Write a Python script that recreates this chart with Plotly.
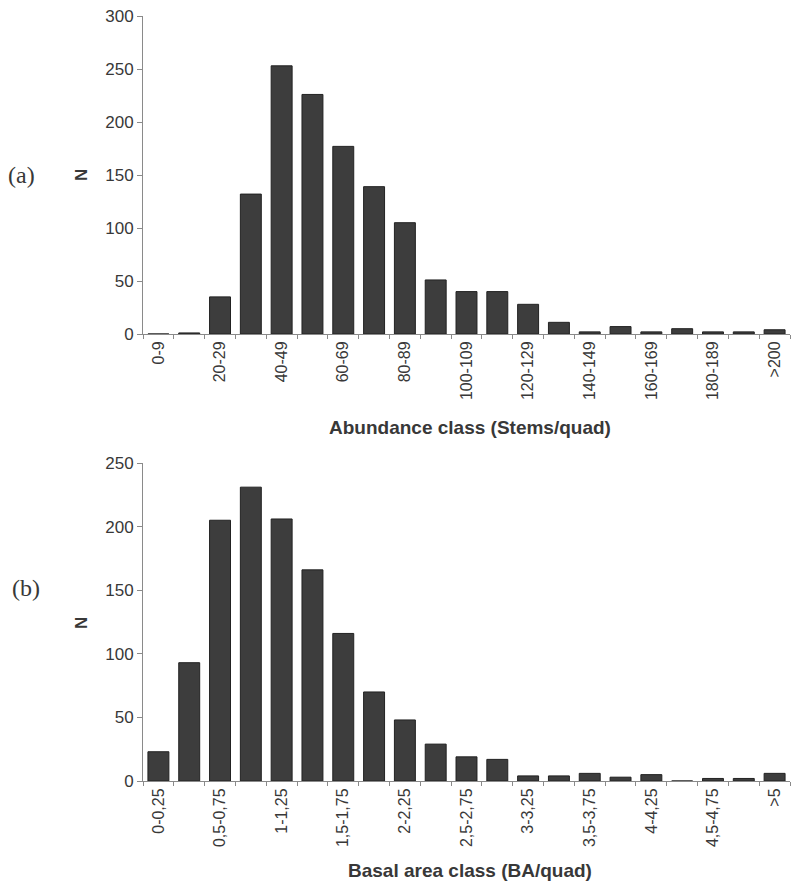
import plotly.graph_objects as go

# ---- data ----
abund_classes = ["0-9", "10-19", "20-29", "30-39", "40-49", "50-59", "60-69", "70-79",
                 "80-89", "90-99", "100-109", "110-119", "120-129", "130-139", "140-149",
                 "150-159", "160-169", "170-179", "180-189", "190-199", ">200"]
abund_n = [0, 1, 35, 132, 253, 226, 177, 139, 105, 51, 40, 40, 28, 11, 2, 7, 2, 5, 2, 2, 4]

ba_classes = ["0-0,25", "0,25-0,5", "0,5-0,75", "0,75-1", "1-1,25", "1,25-1,5", "1,5-1,75",
              "1,75-2", "2-2,25", "2,25-2,5", "2,5-2,75", "2,75-3", "3-3,25", "3,25-3,5",
              "3,5-3,75", "3,75-4", "4-4,25", "4,25-4,5", "4,5-4,75", "4,75-5", ">5"]
ba_n = [23, 93, 205, 231, 206, 166, 116, 70, 48, 29, 19, 17, 4, 4, 6, 3, 5, 0, 2, 2, 6]

W, H = 791, 886
L, R, T, B = 143, 1, 16, 105
PW = W - L - R
PH = H - T - B


def px(x):
    return (x - L) / PW


def py(y):
    return (H - B - y) / PH


TXT = "#383838"
AX = "#8a8a8a"
BAR = "#3d3d3d"
SANS = "Liberation Sans, Arial, sans-serif"

fig = go.Figure()

fig.add_trace(go.Bar(x=list(range(len(abund_classes))), y=abund_n, xaxis="x", yaxis="y",
                     marker=dict(color=BAR, line=dict(color="#222222", width=1)),
                     hovertext=abund_classes, showlegend=False))
fig.add_trace(go.Bar(x=list(range(len(ba_classes))), y=ba_n, xaxis="x2", yaxis="y2",
                     marker=dict(color=BAR, line=dict(color="#222222", width=1)),
                     hovertext=ba_classes, showlegend=False))


def xaxis_cfg(labels, anchor):
    n = len(labels)
    return dict(
        anchor=anchor, domain=[0, 1], range=[-0.5, n - 0.5],
        tickmode="array", tickvals=list(range(0, n, 2)), ticktext=labels[::2],
        tickangle=-90, ticks="", showline=True, linecolor=AX, linewidth=1,
        showgrid=False, zeroline=False,
        tickfont=dict(family=SANS, size=16, color=TXT),
        minor=dict(tickmode="array", tickvals=[k - 0.5 for k in range(n + 1)],
                   ticks="outside", ticklen=4, tickcolor=AX, tickwidth=1, showgrid=False),
        fixedrange=True,
    )


def yaxis_cfg(rng, domain, anchor):
    return dict(
        anchor=anchor, domain=domain, range=rng, dtick=50, tick0=0,
        ticks="outside", ticklen=5, tickcolor=AX, showline=True, linecolor=AX, linewidth=1,
        showgrid=False, zeroline=False,
        tickfont=dict(family=SANS, size=17, color=TXT),
        fixedrange=True,
    )


fig.update_layout(
    width=W, height=H,
    margin=dict(l=L, r=R, t=T, b=B, autoexpand=False),
    paper_bgcolor="white", plot_bgcolor="white",
    bargap=0.32,
    xaxis=xaxis_cfg(abund_classes, "y"),
    yaxis=yaxis_cfg([0, 300], [py(334), 1.0], "x"),
    xaxis2=xaxis_cfg(ba_classes, "y2"),
    yaxis2=yaxis_cfg([0, 250], [0.0, py(463)], "x2"),
)

ann = []
ann.append(dict(text="<b>Abundance class (Stems/quad)</b>", x=px(470), y=py(427),
                font=dict(family=SANS, size=19, color=TXT)))
ann.append(dict(text="<b>Basal area class (BA/quad)</b>", x=px(470), y=py(870),
                font=dict(family=SANS, size=19, color=TXT)))
ann.append(dict(text="<b>N</b>", x=px(81), y=py(175), textangle=-90,
                font=dict(family=SANS, size=17, color=TXT)))
ann.append(dict(text="<b>N</b>", x=px(81), y=py(623), textangle=-90,
                font=dict(family=SANS, size=17, color=TXT)))
ann.append(dict(text="(a)", x=px(21), y=py(175),
                font=dict(family="Liberation Serif, Times New Roman, serif", size=24, color=TXT)))
ann.append(dict(text="(b)", x=px(26), y=py(588),
                font=dict(family="Liberation Serif, Times New Roman, serif", size=24, color=TXT)))
for a in ann:
    a.update(xref="paper", yref="paper", showarrow=False, xanchor="center", yanchor="middle")
fig.update_layout(annotations=ann)

fig.write_html("out.html")
